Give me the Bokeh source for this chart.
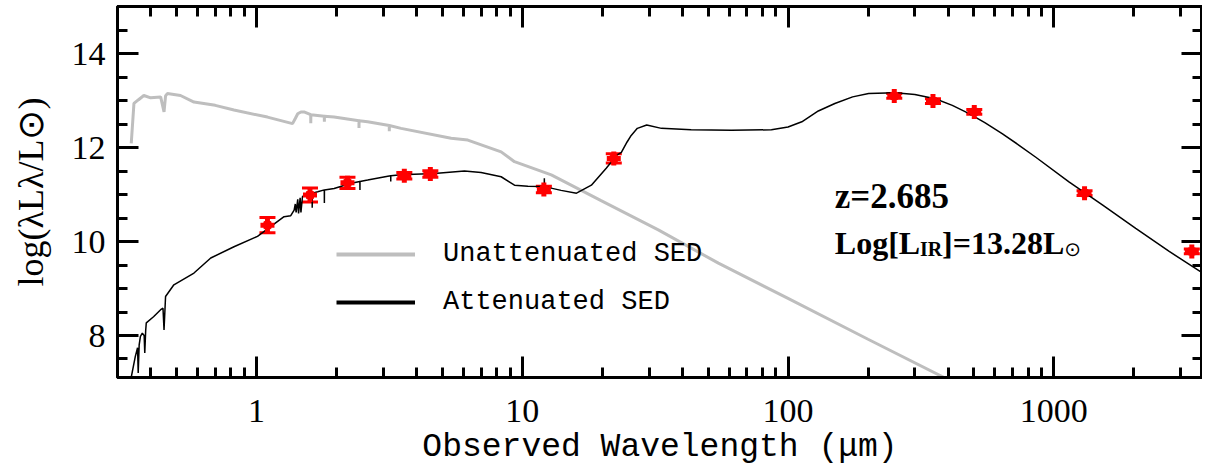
import numpy as np
from bokeh.plotting import figure
from bokeh.models import (Range1d, LogAxis, LinearAxis, LogTicker, SingleIntervalTicker,
                          LogTickFormatter, CustomJSTickFormatter, Whisker, ColumnDataSource,
                          Label, TeeHead, Legend, LegendItem)
from bokeh.embed import file_html
from bokeh.resources import INLINE

# ---------------- data ----------------
unatt_wave = [0.338, 0.346, 0.36, 0.377, 0.40, 0.436, 0.449, 0.455, 0.462, 0.518, 0.582, 0.70,
              0.823, 1.10, 1.367, 1.40, 1.43, 1.47, 1.51, 1.60, 1.601, 1.602, 1.80, 1.801, 1.802,
              1.96, 2.43, 2.431, 2.432, 2.62, 3.16, 3.161, 3.162, 3.50, 5.40, 6.24, 8.33, 9.35,
              12.86, 19.8, 32.5, 54.7, 100.0, 200.0, 385.0, 700.0]
unatt_logL = [12.09, 12.94, 13.02, 13.11, 13.06, 13.08, 12.76, 13.10, 13.15, 13.11, 12.97, 12.90,
              12.80, 12.65, 12.51, 12.62, 12.72, 12.76, 12.76, 12.70, 12.52, 12.70, 12.67, 12.55, 12.67,
              12.65, 12.57, 12.42, 12.57, 12.55, 12.47, 12.35, 12.47, 12.41, 12.20, 12.16, 11.91, 11.70,
              11.42, 10.87, 10.25, 9.54, 8.79, 7.92, 7.11, 6.40]

att_wave = [0.335, 0.350, 0.357, 0.359, 0.362, 0.366, 0.372, 0.378, 0.380, 0.383, 0.385, 0.41,
            0.436, 0.445, 0.449, 0.455, 0.489, 0.582, 0.673, 0.823, 1.009, 1.27, 1.346, 1.386,
            1.40, 1.41, 1.43, 1.44, 1.46, 1.47, 1.49, 1.52, 1.62, 1.621, 1.622, 1.70, 1.80, 1.801,
            1.802, 1.96, 2.27, 2.45, 2.451, 2.452, 2.62, 3.12, 3.20, 3.201, 3.202, 3.50, 4.67, 6.06,
            7.0, 8.33, 9.35, 10.5, 12.1, 12.11, 12.12, 14.0, 16.0, 18.2, 20.7, 22.7, 23.6, 24.8,
            25.7, 27.1, 29.4, 33.4, 43.2, 61.2, 86.6, 100.0, 112.7, 130.0, 150.0, 175.0, 201.0,
            253.0, 300.0, 358.0, 415.0, 478.0, 550.0, 639.0, 740.0, 853.0, 1140.0, 1523.0, 2033.0,
            2717.0, 4200.0]
att_logL = [7.00, 7.55, 7.74, 7.20, 7.80, 7.98, 8.05, 8.00, 7.63, 8.10, 8.27, 8.40,
            8.55, 8.58, 8.12, 8.83, 9.08, 9.33, 9.65, 9.89, 10.11, 10.53, 10.55, 10.67,
            10.80, 10.62, 10.90, 10.60, 10.93, 10.62, 10.96, 10.98, 11.03, 10.72, 11.03, 11.06, 11.10, 10.82,
            11.10, 11.13, 11.24, 11.28, 11.10, 11.28, 11.31, 11.39, 11.40, 11.28, 11.40, 11.42, 11.45, 11.50,
            11.47, 11.38, 11.20, 11.18, 11.17, 11.35, 11.17, 11.09, 11.03, 11.20, 11.56, 11.84, 11.90, 12.12,
            12.26, 12.41, 12.48, 12.41, 12.38, 12.37, 12.38, 12.44, 12.55, 12.78, 12.94, 13.08, 13.15,
            13.17, 13.13, 13.04, 12.90, 12.73, 12.53, 12.30, 12.05, 11.80, 11.27, 10.78, 10.28,
            9.79, 9.10]

obs_wave = [1.10, 1.59, 2.20, 3.60, 4.51, 12.06, 22.1, 251.0, 351.0, 502.0, 1305.0, 3305.0]
obs_logL = [10.35, 10.99, 11.25, 11.40, 11.44, 11.11, 11.77, 13.10, 12.99, 12.76, 11.03, 9.79]
obs_err = [0.16, 0.15, 0.12, 0.07, 0.07, 0.07, 0.10, 0.05, 0.05, 0.05, 0.05, 0.05]

x_ticks = [1, 10, 100, 1000]
y_ticks = [8, 10, 12, 14]
legend_labels = ["Unattenuated SED", "Attenuated SED"]
redshift_text = "z=2.685"
lir_parts = ["Log[L", "IR", "]=13.28L", "⊙"]
ylabel = "log(λLλ/L⊙)"
xlabel = "Observed Wavelength (μm)"

# ---------------- layout ----------------
W, H = 1202, 468
FL, FR, FT, FB = 117, 1200, 6, 378  # expected frame edges (figure px)
PX_DEC, PX_1 = 265.3, 255.7          # px per decade, px of x=1
PX_UNIT, PX_14 = 47.1, 53.3          # px per y unit, px of y=14
X0 = 10 ** ((FL - PX_1) / PX_DEC)
X1 = 10 ** ((FR - PX_1) / PX_DEC)
Y1 = 14 + (PX_14 - FT) / PX_UNIT
Y0 = 14 - (FB - PX_14) / PX_UNIT

def sx2x(sx):
    return 10 ** ((sx - PX_1) / PX_DEC)

def sy2y(sy):
    return 14 - (sy - PX_14) / PX_UNIT

p = figure(width=W, height=H, x_axis_type="log", output_backend="svg",
           toolbar_location=None, x_range=Range1d(X0, X1), y_range=Range1d(Y0, Y1),
           min_border_left=FL, min_border_right=0, min_border_top=FT, min_border_bottom=H - FB)
p.grid.visible = False
p.outline_line_color = "black"
p.outline_line_width = 3
p.background_fill_color = "white"
p.border_fill_color = "white"

xt = LogTicker(num_minor_ticks=10, desired_num_ticks=5)
yt = SingleIntervalTicker(interval=2, num_minor_ticks=4)
blank = CustomJSTickFormatter(code="return ''")

def style_axis(ax, labels=True):
    ax.axis_line_width = 3
    ax.major_tick_line_width = 3
    ax.minor_tick_line_width = 3
    ax.major_tick_in = 21
    ax.major_tick_out = 0
    ax.minor_tick_in = 10
    ax.minor_tick_out = 0
    if labels:
        ax.major_label_text_font = "Liberation Serif"
        ax.major_label_text_font_size = "34px"
        ax.major_label_text_color = "black"
    else:
        ax.formatter = blank
        ax.major_label_standoff = 0
        ax.major_label_text_font_size = "0px"

xa = p.xaxis[0]
xa.ticker = xt
xa.formatter = LogTickFormatter(min_exponent=6)
style_axis(xa)
xa.major_label_standoff = 22
xa.axis_label = xlabel
xa.axis_label_text_font = "Liberation Mono"
xa.axis_label_text_font_size = "33px"
xa.axis_label_text_font_style = "normal"
xa.axis_label_text_color = "black"
xa.axis_label_standoff = 4

ya = p.yaxis[0]
ya.ticker = yt
style_axis(ya)
ya.major_label_standoff = 12
ya.major_label_orientation = "horizontal"
ya.axis_label = ylabel
ya.axis_label_text_font = "Liberation Serif"
ya.axis_label_text_font_size = "36px"
ya.axis_label_text_font_style = "normal"
ya.axis_label_text_color = "black"
ya.axis_label_standoff = 18

top = LogAxis(ticker=xt)
style_axis(top, labels=False)
p.add_layout(top, "above")
right = LinearAxis(ticker=yt)
style_axis(right, labels=False)
p.add_layout(right, "right")

# curves
r_un = p.line(unatt_wave, unatt_logL, line_color="#bebebe", line_width=3)
r_at = p.line(att_wave, att_logL, line_color="black", line_width=1.5)

# observations
lower = [v - e for v, e in zip(obs_logL, obs_err)]
upper = [v + e for v, e in zip(obs_logL, obs_err)]
src = ColumnDataSource(dict(x=obs_wave, y=obs_logL, lower=lower, upper=upper))
wh = Whisker(source=src, base="x", lower="lower", upper="upper", dimension="height",
             line_color="red", line_width=3,
             upper_head=TeeHead(size=16, line_color="red", line_width=3),
             lower_head=TeeHead(size=16, line_color="red", line_width=3))
p.add_layout(wh)
p.scatter("x", "y", source=src, marker="cross", size=14, line_width=5, color="red")
p.scatter("x", "y", source=src, marker="square", size=7, color="red")

# legend (thicker sample lines; renderers hold no visible data)
lg_un = p.line([1.0], [float("nan")], line_color="#bebebe", line_width=4)
lg_at = p.line([1.0], [float("nan")], line_color="black", line_width=4)
leg = Legend(items=[LegendItem(label=legend_labels[0], renderers=[lg_un]),
                    LegendItem(label=legend_labels[1], renderers=[lg_at])],
             location=(219, 60), glyph_width=79, glyph_height=20, label_height=20,
             label_standoff=28, spacing=18, padding=0, margin=0,
             border_line_color=None, background_fill_alpha=0,
             label_text_font="Liberation Mono", label_text_font_size="27px",
             label_text_color="black")
p.add_layout(leg, "center")

# annotation text
def lab(text, sx, sy, font="Liberation Serif", size="32px", style="bold"):
    p.add_layout(Label(x=sx2x(sx), y=sy2y(sy), text=text, text_font=font,
                       text_font_size=size, text_font_style=style, text_color="black",
                       text_align="left", text_baseline="alphabetic"))

lab(redshift_text, 833, 197, size="35px")
lab(lir_parts[0], 833, 243)
lab(lir_parts[1], 918, 249, size="20px")
lab(lir_parts[2], 940, 243)
lab(lir_parts[3], 1062, 249, font="DejaVu Sans", size="20px", style="normal")

open("out.html", "w").write(file_html(p, INLINE))
